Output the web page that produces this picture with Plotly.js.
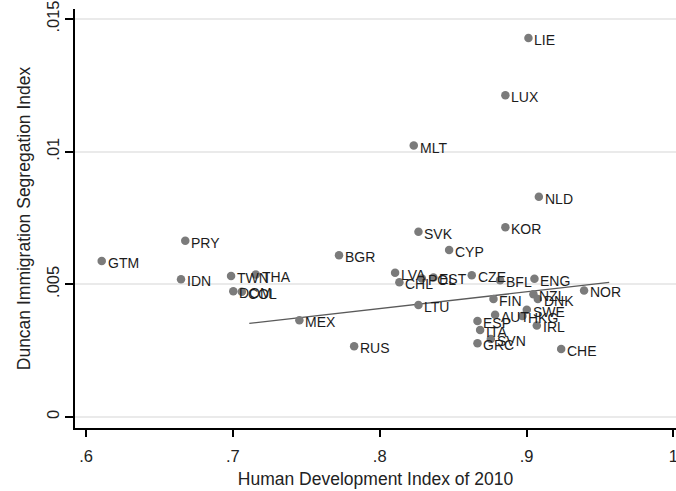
<!DOCTYPE html>
<html>
<head>
<meta charset="utf-8">
<script src="https://cdn.plot.ly/plotly-3.0.1.min.js"></script>
<style>html,body{margin:0;padding:0;background:#fff;}#chart{width:676px;height:491px;}</style>
</head>
<body>
<div id="chart"></div>
<script>
const countries = ["LIE","LUX","MLT","NLD","KOR","SVK","PRY","CYP","BGR","GTM","LVA","TWN","THA","IDN","DOM","COL","MEX","CHL","POL","EST","CZE","BFL","ENG","NOR","NZL","DNK","FIN","AUT","SWE","HKG","IRL","ESP","ITA","GRC","SVN","CHE","LTU","RUS"];
const hdi = [0.9013,0.8856,0.8232,0.9084,0.8856,0.8264,0.6676,0.8473,0.7723,0.6107,0.8105,0.6988,0.7156,0.6647,0.7003,0.7061,0.7453,0.8134,0.8287,0.8366,0.8627,0.8820,0.9054,0.9392,0.9047,0.9077,0.8775,0.8786,0.9002,0.8972,0.9070,0.8666,0.8684,0.8666,0.8757,0.9236,0.8264,0.7826];
const segIndex = [0.01428,0.01213,0.01023,0.00830,0.00715,0.00698,0.00664,0.00629,0.00610,0.00588,0.00544,0.00531,0.00537,0.00519,0.00474,0.00472,0.00365,0.00508,0.00522,0.00526,0.00534,0.00515,0.00521,0.00477,0.00463,0.00445,0.00445,0.00385,0.00404,0.00381,0.00345,0.00362,0.00328,0.00278,0.00294,0.00256,0.00422,0.00267];
const fitX = [0.7112, 0.9563];
const fitY = [0.00353, 0.00507];
const xTickVals = [0.6, 0.7, 0.8, 0.9, 1.0];
const xTickText = [".6", ".7", ".8", ".9", "1"];
const yTickVals = [0, 0.005, 0.01, 0.015];
const yTickText = ["0", ".005", ".01", ".015"];

const font = "Liberation Sans, Arial, sans-serif";
const traces = [
  {
    x: fitX, y: fitY, type: "scatter", mode: "lines",
    line: {color: "#5a5a5a", width: 1.3},
    hoverinfo: "skip", showlegend: false
  },
  {
    x: hdi, y: segIndex, text: countries, type: "scatter", mode: "markers",
    marker: {color: "#7b7b7b", size: 8.5},
    showlegend: false
  }
];
const labels = countries.map((c, i) => ({
  x: hdi[i], y: segIndex[i], xref: "x", yref: "y",
  text: c, showarrow: false, xanchor: "left", yanchor: "middle",
  xshift: 5, yshift: -2, borderpad: 0,
  font: {family: font, size: 14, color: "#1c1c1c"}
}));
const layout = {
  width: 676, height: 491,
  margin: {l: 75, r: 0, t: 9, b: 63},
  paper_bgcolor: "#fff", plot_bgcolor: "#fff",
  font: {family: font, color: "#222"},
  annotations: labels,
  xaxis: {
    range: [0.5925, 1.0018],
    tickvals: xTickVals, ticktext: xTickText,
    ticks: "outside", ticklen: 7, tickwidth: 2, tickcolor: "#000",
    ticklabelstandoff: 5, ticklabeloverflow: "allow",
    showline: true, linecolor: "#000", linewidth: 2,
    showgrid: false, zeroline: false,
    tickfont: {family: font, size: 16.5, color: "#222"},
    title: {text: "Human Development Index of 2010", font: {family: font, size: 17.5, color: "#222"}, standoff: 9}
  },
  yaxis: {
    range: [-0.000415, 0.015377],
    tickvals: yTickVals, ticktext: yTickText,
    tickangle: -90,
    ticks: "outside", ticklen: 8, tickwidth: 2, tickcolor: "#000",
    ticklabelstandoff: -1, ticklabeloverflow: "allow",
    showline: true, linecolor: "#000", linewidth: 2,
    showgrid: true, gridcolor: "#eaeaea", gridwidth: 2,
    zeroline: false,
    tickfont: {family: font, size: 16.5, color: "#222"},
    title: {text: "Duncan Immigration Segregation Index", font: {family: font, size: 17.5, color: "#222"}, standoff: 9}
  }
};
Plotly.newPlot("chart", traces, layout, {displayModeBar: false, staticPlot: true});
</script>
</body>
</html>
